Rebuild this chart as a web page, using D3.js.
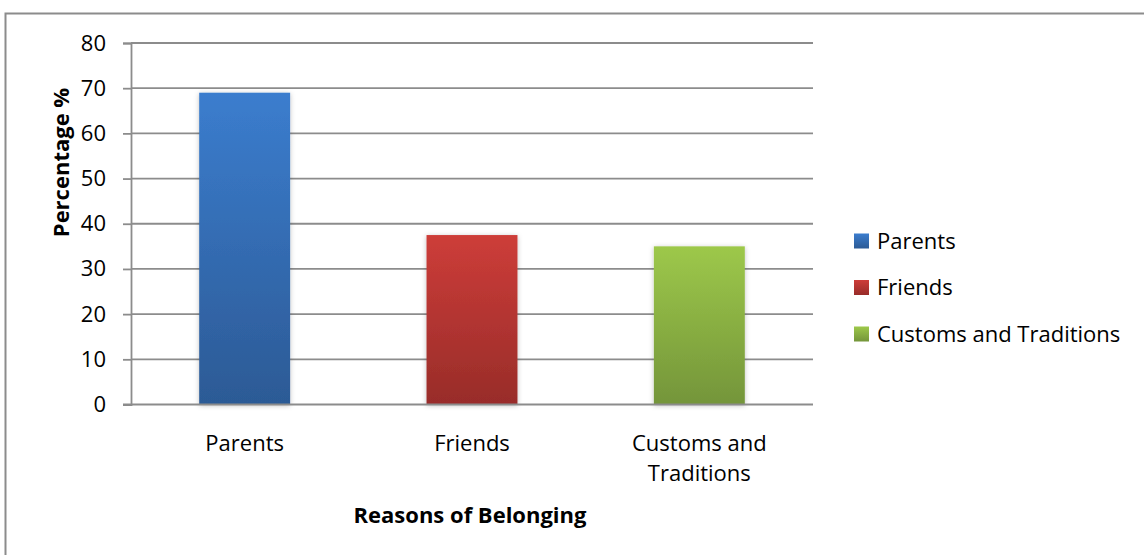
<!DOCTYPE html>
<html>
<head>
<meta charset="utf-8">
<script src="https://cdn.jsdelivr.net/npm/d3@7"></script>
<style>
  html, body { margin: 0; padding: 0; background: #fff; }
  svg { display: block; font-family: "Open Sans", sans-serif; }
</style>
</head>
<body>
<svg id="chart" width="1144" height="555"></svg>
<script>
// Reasons of belonging, share of respondents (%)
const categories = ["Parents", "Friends", "Customs and Traditions"];
const categoryLines = [["Parents"], ["Friends"], ["Customs and", "Traditions"]];
const values = [69, 37.5, 35];
const yTicks = [0, 10, 20, 30, 40, 50, 60, 70, 80];
const colorsTop = ["#3b7dce", "#cd3d39", "#9dc84a"];
const colorsBottom = ["#2c5a95", "#982c29", "#74953a"];

const FONT = "'Open Sans', sans-serif";
const FS = 22;

const svg = d3.select("#chart");
const W = 1144, H = 555;

// outer chart frame
svg.append("rect")
  .attr("x", 5.5).attr("y", 13.5)
  .attr("width", W + 10).attr("height", H + 10)
  .attr("fill", "#fff").attr("stroke", "#8c8c8c").attr("stroke-width", 2);

const plot = { left: 131, right: 813, top: 43, bottom: 404.5 };

const x = d3.scaleBand()
  .domain(categories)
  .range([plot.left, plot.right])
  .paddingInner(0.6)
  .paddingOuter(0.3);

const y = d3.scaleLinear()
  .domain([0, 80])
  .range([plot.bottom, plot.top]);

// gradients + shadow
const defs = svg.append("defs");
categories.forEach((c, i) => {
  const g = defs.append("linearGradient")
    .attr("id", "grad" + i)
    .attr("x1", 0).attr("y1", 0).attr("x2", 0).attr("y2", 1);
  g.append("stop").attr("offset", "0%").attr("stop-color", colorsTop[i]);
  g.append("stop").attr("offset", "100%").attr("stop-color", colorsBottom[i]);
});
const f = defs.append("filter").attr("id", "shadow")
  .attr("x", "-20%").attr("y", "-20%").attr("width", "140%").attr("height", "140%");
f.append("feDropShadow")
  .attr("dx", 0).attr("dy", 1).attr("stdDeviation", 2.5)
  .attr("flood-color", "#000").attr("flood-opacity", 0.25);

// horizontal gridlines
svg.append("g")
  .selectAll("line")
  .data(yTicks.filter(t => t > 0))
  .join("line")
  .attr("x1", plot.left).attr("x2", plot.right)
  .attr("y1", d => y(d)).attr("y2", d => y(d))
  .attr("stroke", "#8c8c8c").attr("stroke-width", 1.8);

// y axis
const yAxis = svg.append("g")
  .attr("transform", `translate(${plot.left},0)`)
  .call(d3.axisLeft(y).tickValues(yTicks).tickSize(8).tickPadding(17));
yAxis.attr("font-family", FONT).attr("font-size", FS);
yAxis.select(".domain").attr("stroke", "#8c8c8c").attr("stroke-width", 1.8);
yAxis.selectAll(".tick line").attr("stroke", "#8c8c8c").attr("stroke-width", 1.8);
yAxis.selectAll(".tick text").attr("fill", "#000");

// bars
svg.append("g")
  .selectAll("rect")
  .data(categories)
  .join("rect")
  .attr("x", d => x(d))
  .attr("y", (d, i) => y(values[i]))
  .attr("width", x.bandwidth())
  .attr("height", (d, i) => y(0) - y(values[i]))
  .attr("fill", (d, i) => `url(#grad${i})`)
  .attr("filter", "url(#shadow)");

// x axis baseline
svg.append("line")
  .attr("x1", plot.left - 8).attr("x2", plot.right)
  .attr("y1", y(0)).attr("y2", y(0))
  .attr("stroke", "#8c8c8c").attr("stroke-width", 1.8);

// category labels
const xl = svg.append("g")
  .selectAll("text")
  .data(categories)
  .join("text")
  .attr("x", d => x(d) + x.bandwidth() / 2)
  .attr("y", 451)
  .attr("text-anchor", "middle")
  .attr("font-size", FS)
  .attr("fill", "#000");
xl.each(function (d, i) {
  d3.select(this).selectAll("tspan")
    .data(categoryLines[i])
    .join("tspan")
    .attr("x", x(d) + x.bandwidth() / 2)
    .attr("dy", (t, j) => j === 0 ? 0 : 30)
    .text(t => t);
});

// axis titles
svg.append("text")
  .attr("x", 470).attr("y", 523)
  .attr("text-anchor", "middle")
  .attr("font-size", FS).attr("font-weight", "bold")
  .text("Reasons of Belonging");

svg.append("text")
  .attr("transform", "translate(69,162.5) rotate(-90)")
  .attr("text-anchor", "middle")
  .attr("font-size", FS).attr("font-weight", "bold")
  .text("Percentage %");

// legend
const legend = svg.append("g")
  .selectAll("g")
  .data(categories)
  .join("g")
  .attr("transform", (d, i) => `translate(854,${241 + i * 46.5})`);
legend.append("rect")
  .attr("x", 0).attr("y", -7.5)
  .attr("width", 15).attr("height", 15)
  .attr("fill", (d, i) => `url(#grad${i})`);
legend.append("text")
  .attr("x", 23).attr("y", 0)
  .attr("dy", "0.35em")
  .attr("font-size", FS)
  .attr("fill", "#000")
  .text(d => d);
</script>
</body>
</html>
